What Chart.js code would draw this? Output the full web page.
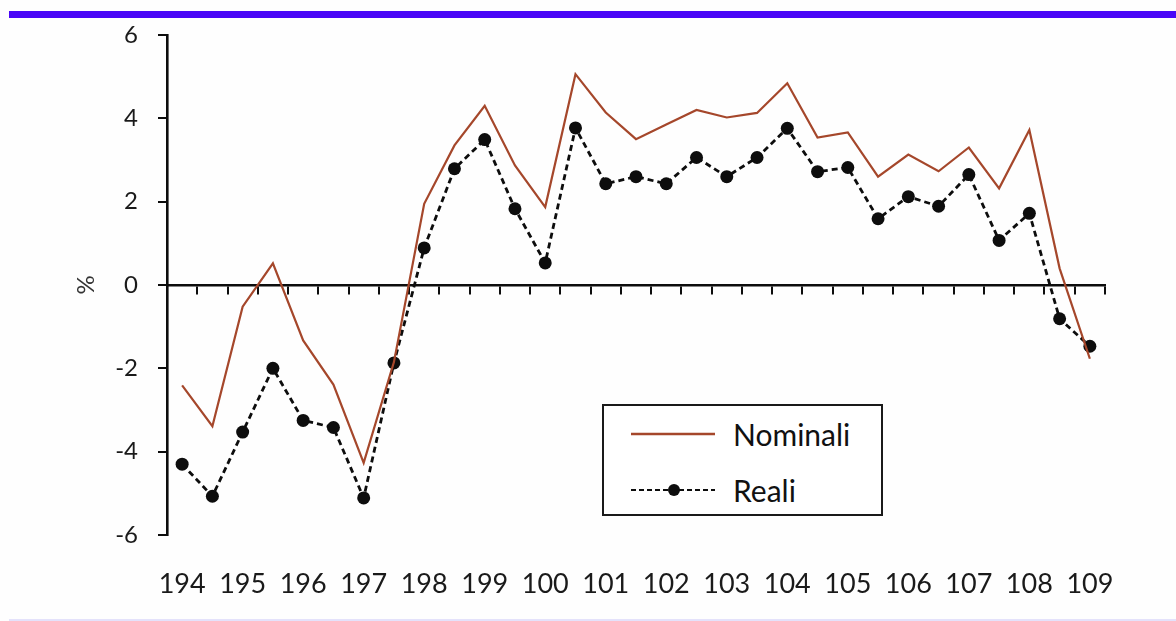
<!DOCTYPE html>
<html>
<head>
<meta charset="utf-8">
<script src="https://cdn.jsdelivr.net/npm/chart.js@4"></script>
<style>
  html, body { margin: 0; padding: 0; background: #ffffff; }
  #wrap { position: relative; width: 1176px; height: 621px; overflow: hidden; background: #fefefe; }
  #topbar { position: absolute; left: 9px; top: 11px; width: 1167px; height: 7px; background: #4a06f7; }
  #botbar { position: absolute; left: 9px; top: 619px; width: 1167px; height: 2px; background: #e4e2fb; }
  #c { position: absolute; left: 0; top: 0; }
  #legend { position: absolute; left: 602px; top: 404px; width: 277px; height: 108px;
            border: 2px solid #1a1a1a; box-sizing: content-box; background: #fff;
            font-family: Lato, "Open Sans", sans-serif; font-size: 30px; color: #111; }
  .item { position: absolute; left: 27px; height: 34px; display: flex; align-items: center; }
  .item svg { width: 86px; height: 20px; margin-right: 16px; }
</style>
</head>
<body>
<div id="wrap">
  <canvas id="c" width="1176" height="621"></canvas>
  <div id="topbar"></div>
  <div id="botbar"></div>
  <div id="legend"></div>
</div>
<script>
// ---- data ----
const categories = [
  '194 I','194 II','195 I','195 II','196 I','196 II','197 I','197 II',
  '198 I','198 II','199 I','199 II','100 I','100 II','101 I','101 II',
  '102 I','102 II','103 I','103 II','104 I','104 II','105 I','105 II',
  '106 I','106 II','107 I','107 II','108 I','108 II','109 I'
];
const tickLabels = ['194','195','196','197','198','199','100','101','102','103','104','105','106','107','108','109'];
const nominali = [
  -2.41, -3.39, -0.52, 0.52, -1.33, -2.39, -4.27, -1.85,
  1.95, 3.35, 4.30, 2.87, 1.87, 5.06, 4.14, 3.50,
  3.85, 4.20, 4.02, 4.13, 4.84, 3.54, 3.66, 2.60,
  3.13, 2.73, 3.30, 2.32, 3.72, 0.40, -1.77
];
const reali = [
  -4.30, -5.07, -3.53, -2.00, -3.25, -3.42, -5.11, -1.87,
  0.89, 2.79, 3.49, 1.83, 0.53, 3.77, 2.43, 2.60,
  2.43, 3.06, 2.60, 3.06, 3.76, 2.72, 2.82, 1.59,
  2.12, 1.89, 2.65, 1.07, 1.72, -0.81, -1.47
];
const seriesNames = ['Nominali', 'Reali'];
const yTicks = [-6, -4, -2, 0, 2, 4, 6];

const brown = '#a5472b';
const black = '#0d0d0d';
const tickFont = { family: 'Lato, "Open Sans", sans-serif', size: 24 };
const xFont = { family: 'Lato, "Open Sans", sans-serif', size: 27 };

const chart = new Chart(document.getElementById('c'), {
  type: 'line',
  data: {
    labels: categories,
    datasets: [
      { label: seriesNames[0], data: nominali, borderColor: brown, backgroundColor: brown,
        borderWidth: 2.2, pointRadius: 0, tension: 0, fill: false },
      { label: seriesNames[1], data: reali, borderColor: black, backgroundColor: black,
        borderWidth: 2.8, borderDash: [6, 4], pointRadius: 6.5, pointBackgroundColor: black,
        pointBorderColor: black, pointBorderWidth: 0, tension: 0, fill: false }
    ]
  },
  options: {
    responsive: false,
    animation: false,
    devicePixelRatio: 1,
    layout: { padding: { left: 0, top: 35, right: 71, bottom: 0 } },
    plugins: { legend: { display: false }, tooltip: { enabled: false } },
    scales: {
      x: {
        type: 'category',
        position: 'bottom',
        offset: true,
        grid: { display: false, drawTicks: false },
        border: { display: false },
        ticks: {
          autoSkip: false, maxRotation: 0, minRotation: 0, padding: 33,
          color: '#1a1a1a', font: xFont,
          callback: (v, i) => (i % 2 === 0 ? tickLabels[i / 2] : '')
        },
        afterFit: (s) => { s.height = 86; }
      },
      x2: {
        type: 'category',
        position: { y: 0 },
        offset: true,
        grid: { display: true, offset: true, drawOnChartArea: false, drawTicks: true,
                tickLength: 8, color: black, lineWidth: 2 },
        border: { display: true, color: black, width: 2.6 },
        ticks: { display: false }
      },
      y: {
        min: -6, max: 6,
        afterBuildTicks: (s) => { s.ticks = yTicks.map(v => ({ value: v })); },
        grid: { display: true, drawOnChartArea: false, drawTicks: true, tickLength: 9,
                color: black, lineWidth: 2 },
        border: { display: true, color: black, width: 2.6 },
        ticks: { padding: 20, color: '#1a1a1a', font: tickFont },
        title: { display: true, text: '%', color: '#333', font: { family: 'Lato, sans-serif', size: 24 },
                 padding: { top: 72, bottom: 0 } },
        afterFit: (s) => { s.width = 167; }
      }
    }
  }
});

// HTML legend built from chart datasets
const lg = document.getElementById('legend');
chart.data.datasets.forEach((ds, i) => {
  const d = document.createElement('div');
  d.className = 'item';
  d.style.top = (i === 0 ? 11 : 67) + 'px';
  const dash = ds.borderDash ? `stroke-dasharray="5 3"` : '';
  const dot = ds.pointRadius ? `<circle cx="43" cy="10" r="6" fill="${ds.pointBackgroundColor}"/>` : '';
  d.innerHTML = `<svg viewBox="0 0 86 20"><line x1="0" y1="10" x2="84" y2="10" stroke="${ds.borderColor}" stroke-width="${ds.borderDash ? 2 : 2.4}" ${dash}/>${dot}</svg><span>${ds.label}</span>`;
  lg.appendChild(d);
});
</script>
</body>
</html>
